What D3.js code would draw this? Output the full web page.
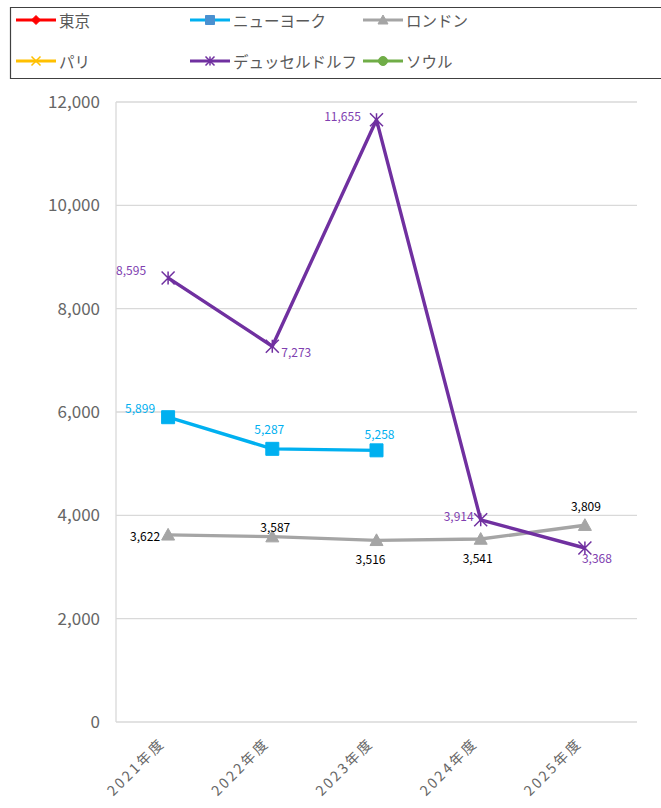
<!DOCTYPE html>
<html><head><meta charset="utf-8">
<script src="https://cdn.jsdelivr.net/npm/d3@7"></script>
<style>body{margin:0;background:#fff;overflow:hidden}svg{display:block}</style>
</head><body>
<svg id="c" width="661" height="808"></svg>
<script>
const categories = ["2021年度","2022年度","2023年度","2024年度","2025年度"];
const seriesNames = ["東京","ニューヨーク","ロンドン","パリ","デュッセルドルフ","ソウル"];
const tokyo = [null,null,null,null,null];
const newYork = [5899,5287,5258,null,null];
const london = [3622,3587,3516,3541,3809];
const paris = [null,null,null,null,null];
const dusseldorf = [8595,7273,11655,3914,3368];
const seoul = [null,null,null,null,null];
const yTicks = [0,2000,4000,6000,8000,10000,12000];

(function(){
const colors = {"東京":"#FF0000","ニューヨーク":"#00B0F0","ロンドン":"#A5A5A5","パリ":"#FFC000","デュッセルドルフ":"#7030A0","ソウル":"#70AD47"};
const markers = {"東京":"diamond","ニューヨーク":"square","ロンドン":"triangle","パリ":"x","デュッセルドルフ":"star","ソウル":"circle"};
const valuesByName = {"東京":tokyo,"ニューヨーク":newYork,"ロンドン":london,"パリ":paris,"デュッセルドルフ":dusseldorf,"ソウル":seoul};
const labelColors = {"ニューヨーク":"#00B0F0","ロンドン":"#000000","デュッセルドルフ":"#8040B0"};
const labelPos = {
  "ニューヨーク":[[-28,-10,"middle"],[-3,-20,"middle"],[3,-17,"middle"]],
  "ロンドン":[[-23,1,"middle"],[3,-10,"middle"],[-6,18,"middle"],[-3,18,"middle"],[1,-20,"middle"]],
  "デュッセルドルフ":[[-37,-8,"middle"],[24,5,"middle"],[-34,-4,"middle"],[-22,-4,"middle"],[12,10,"middle"]]
};

const svg = d3.select("#c");
const font = "'Noto Sans CJK JP','Open Sans',sans-serif";
const pL=116, pR=637, pT=102, pB=722;
const x = d3.scaleBand().domain(categories).range([pL,pR]);
const y = d3.scaleLinear().domain([0,12000]).range([pB,pT]);

svg.append("g").selectAll("line").data(yTicks).join("line")
  .attr("x1",pL).attr("x2",pR).attr("y1",d=>y(d)).attr("y2",d=>y(d))
  .attr("stroke","#D9D9D9").attr("stroke-width",1.3);
svg.append("line").attr("x1",pL).attr("x2",pL).attr("y1",pT).attr("y2",pB)
  .attr("stroke","#D9D9D9").attr("stroke-width",1.3);

const ya = svg.append("g").attr("transform",`translate(${pL},0)`)
  .call(d3.axisLeft(y).tickValues(yTicks).tickFormat(d3.format(",")).tickSize(0).tickPadding(16));
ya.select(".domain").remove();
ya.selectAll("text").attr("fill","#666666").style("font-family",font).style("font-size","17px");

const xa = svg.append("g");
xa.selectAll("text").data(categories).join("text")
  .attr("transform",d=>`translate(${x(d)+x.bandwidth()/2-2},${pB+22}) rotate(-45)`)
  .attr("text-anchor","end").attr("fill","#666666")
  .style("font-family",font).style("font-size","14px").style("letter-spacing","2.6px")
  .text(d=>d);

function markerPath(type,s){
  const r=s/2;
  switch(type){
    case "square": return `M${-r},${-r}h${s}v${s}h${-s}z`;
    case "triangle": return `M0,${-r}L${r},${r*0.8}L${-r},${r*0.8}z`;
    case "diamond": return `M0,${-r}L${r},0L0,${r}L${-r},0z`;
    case "circle": return d3.symbol(d3.symbolCircle, Math.PI*r*r)();
    case "x": return `M${-r},${-r}L${r},${r}M${-r},${r}L${r},${-r}`;
    case "star": return `M${-r},${-r}L${r},${r}M${-r},${r}L${r},${-r}M0,${-r}V${r}`;
  }
}
function drawMarker(g,type,color,cx,cy,s){
  const filled = !(type==="x"||type==="star");
  g.append("path").attr("d",markerPath(type,s)).attr("transform",`translate(${cx},${cy})`)
    .attr("fill",filled?color:"none").attr("stroke",color).attr("stroke-width",filled?1:1.5);
}

const line = d3.line().defined(d=>d.v!=null).x(d=>x(d.c)+x.bandwidth()/2).y(d=>y(d.v));
const markerSize = {"ニューヨーク":13,"ロンドン":13,"デュッセルドルフ":13,"東京":10,"パリ":10,"ソウル":10};
const drawOrder = ["東京","ニューヨーク","ロンドン","パリ","デュッセルドルフ","ソウル"];
drawOrder.forEach(name=>{
  const vals = valuesByName[name];
  const data = categories.map((c,i)=>({c,v:vals[i]}));
  if(data.every(d=>d.v==null)) return;
  const g = svg.append("g");
  g.append("path").datum(data).attr("d",line).attr("fill","none")
    .attr("stroke",colors[name]).attr("stroke-width",3.4).attr("stroke-linejoin","round");
  data.forEach(d=>{ if(d.v!=null) drawMarker(g,markers[name],colors[name],x(d.c)+x.bandwidth()/2,y(d.v),markerSize[name]); });
});
drawOrder.forEach(name=>{
  const vals = valuesByName[name];
  if(!labelPos[name]) return;
  categories.forEach((c,i)=>{
    if(vals[i]==null) return;
    const [dx,dy,a] = labelPos[name][i];
    svg.append("text").attr("x",x(c)+x.bandwidth()/2+dx).attr("y",y(vals[i])+dy)
      .attr("text-anchor",a).attr("dominant-baseline","central")
      .attr("fill",labelColors[name]).style("font-family",font).style("font-size","12px")
      .text(d3.format(",")(vals[i]));
  });
});

const lg = svg.append("g");
lg.append("path").attr("d","M700,7.5H10.5V78.5H700")
  .attr("fill","#fff").attr("stroke","#404040").attr("stroke-width",1.2);
const legX = [16,190,363], legY=[20,61];
seriesNames.forEach((name,i)=>{
  const col=i%3, row=Math.floor(i/3);
  const lx=legX[col], ly=legY[row];
  lg.append("line").attr("x1",lx).attr("x2",lx+40).attr("y1",ly).attr("y2",ly)
    .attr("stroke",colors[name]).attr("stroke-width",3);
  const mc = name==="ニューヨーク" ? "#4A90D0" : colors[name];
  drawMarker(lg,markers[name],mc,lx+20,ly,name==="ロンドン"?10:9);
  lg.append("text").attr("x",lx+43).attr("y",ly).attr("dominant-baseline","central")
    .attr("fill","#595959").style("font-family",font).style("font-size","15.5px").text(name);
});
})();
</script>
</body></html>
